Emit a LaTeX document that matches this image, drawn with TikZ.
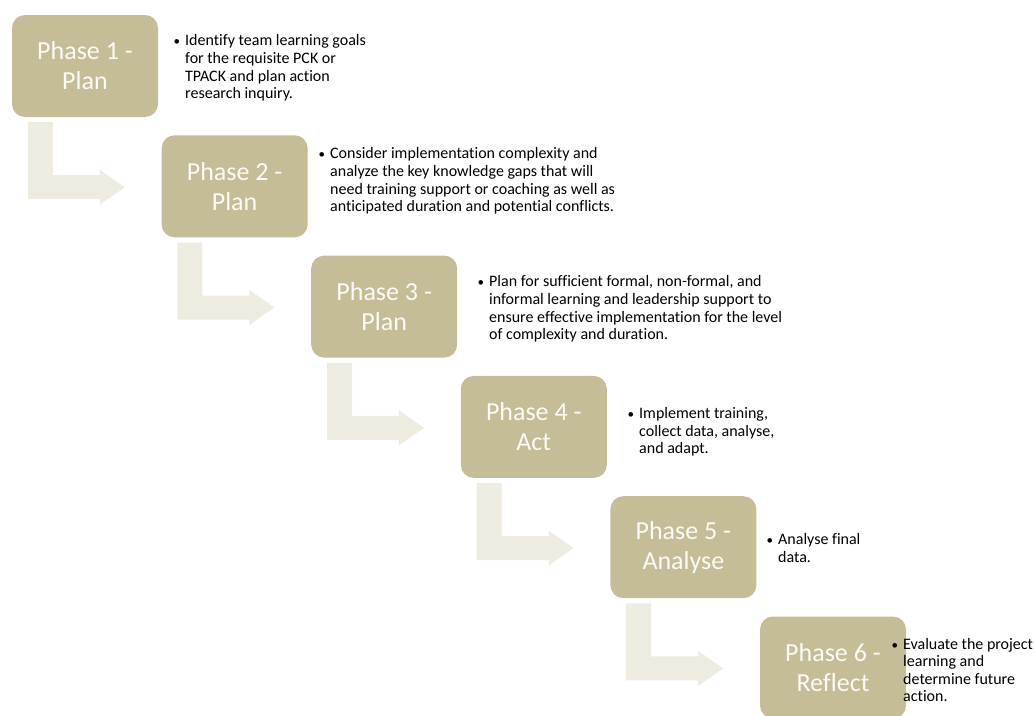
\documentclass[tikz,border=0pt]{standalone}
\usepackage{fontspec}
\setmainfont{Carlito}[Ligatures=NoCommon]
\usetikzlibrary{calc}
\definecolor{boxtan}{HTML}{C4BD97}
\definecolor{arrowtan}{HTML}{EEECE1}
\definecolor{phasetext}{HTML}{FBFAF6}
\tikzset{
  phase/.style={fill=boxtan, rounded corners=13pt, minimum width=146pt, minimum height=102pt,
    inner sep=0pt, text=phasetext, align=center, font=\fontsize{26}{30}\selectfont},
  desc/.style={anchor=west, align=left, inner sep=0pt, text=black, font=\fontsize{16}{17.6}\selectfont},
  bentfill/.style={fill=arrowtan}
}
\newcommand\bentarrow[1]{%
  \fill[bentfill] ($(#1.south west)+(16,5)$) -- ++(25,0) -- ++(0,53) -- ++(47,0) -- ++(0,-5.5)
    -- ++(25,17.5) -- ++(-25,17.5) -- ++(0,-5.5) -- ++(-72,0) -- cycle;}
\newcommand\bul{\llap{{\fontsize{13}{13}\selectfont •}\hspace{5pt}}}
\begin{document}
\begin{tikzpicture}[x=1pt,y=-1pt]
\useasboundingbox (0,0) rectangle (1035,715);
\node[phase] (p1) at (85,66) {Phase 1 -\\Plan};
\node[phase] (p2) at (234.6,186.3) {Phase 2 -\\Plan};
\node[phase] (p3) at (384.2,306.6) {Phase 3 -\\Plan};
\node[phase] (p4) at (533.8,426.9) {Phase 4 -\\Act};
\node[phase] (p5) at (683.4,547.2) {Phase 5 -\\Analyse};
\node[phase] (p6) at (833,667.5) {Phase 6 -\\Reflect};
\bentarrow{p1}
\bentarrow{p2}
\bentarrow{p3}
\bentarrow{p4}
\bentarrow{p5}
\node[desc] (t1) at (185,68) {\bul Identify team learning goals\\for the requisite PCK or\\TPACK and plan action\\research inquiry.};
\node[desc] (t2) at (330,181) {\bul Consider implementation complexity and\\analyze the key knowledge gaps that will\\need training support or coaching as well as\\anticipated duration and potential conflicts.};
\node[desc] (t3) at (489,309) {\bul Plan for sufficient formal, non-formal, and\\informal learning and leadership support to\\ensure effective implementation for the level\\of complexity and duration.};
\node[desc] (t4) at (639,432) {\bul Implement training,\\collect data, analyse,\\and adapt.};
\node[desc] (t5) at (778,548) {\bul Analyse final\\data.};
\node[desc] (t6) at (903,670) {\bul Evaluate the project\\learning and\\determine future\\action.};
\end{tikzpicture}
\end{document}
